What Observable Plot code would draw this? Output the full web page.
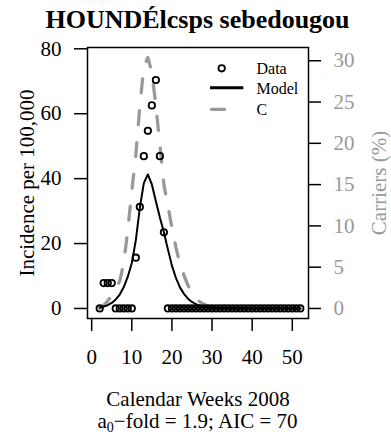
<!DOCTYPE html>
<html><head><meta charset="utf-8">
<script src="https://cdn.jsdelivr.net/npm/d3@7"></script>
<script src="https://cdn.jsdelivr.net/npm/@observablehq/plot@0.6"></script>
<style>
body{margin:0;background:#fff;}
#wrap{position:relative;width:391px;height:437px;overflow:hidden;font-family:"Liberation Serif","Times New Roman",serif;color:#000;}
#title{position:absolute;top:0;left:197.5px;transform:translateX(-50%);white-space:nowrap;font-weight:bold;font-size:26px;line-height:40px;}
#chart{position:absolute;top:40px;left:0;}
#caption{position:absolute;left:197.5px;transform:translateX(-50%);top:408px;white-space:nowrap;font-size:21px;line-height:26px;}
#caption sub{font-size:14px;vertical-align:-4px;line-height:0;}
#legend{position:absolute;left:0;top:0;pointer-events:none;}
</style></head><body>
<div id="wrap">
<div id="title">HOUNDÉlcsps sebedougou</div>
<div id="chart"></div>
<div id="caption">a<sub>0</sub>−fold = 1.9; AIC = 70</div>
<svg id="legend" width="391" height="437" font-family="Liberation Serif, serif" font-size="16">
  <circle cx="221.7" cy="68.3" r="3.2" fill="none" stroke="#000" stroke-width="1.8"></circle>
  <text x="256.5" y="68.3" dominant-baseline="central">Data</text>
  <line x1="210" x2="243.3" y1="87.7" y2="87.7" stroke="#000" stroke-width="3"></line>
  <text x="256.5" y="88" dominant-baseline="central">Model</text>
  <line x1="211.5" x2="224.5" y1="109.3" y2="109.3" stroke="#999" stroke-width="3.3" stroke-linecap="round"></line>
  <text x="256.5" y="109.5" dominant-baseline="central">C</text>
</svg>
</div>
<script>
const weeks = [2,3,4,5,6,7,8,9,10,11,12,13,14,15,16,17,18,19,20,21,22,23,24,25,26,27,28,29,30,31,32,33,34,35,36,37,38,39,40,41,42,43,44,45,46,47,48,49,50,51,52];
const incidence = [0,7.82,7.82,7.82,0,0,0,0,0,15.64,31.28,46.92,54.74,62.56,70.38,46.92,23.46,
  0,0,0,0,0,0,0,0,0,0,0,0,0,0,0,0,0,0,0,0,0,0,0,0,0,0,0,0,0,0,0,0,0,0];
const model = [0.3,0.6,1.0,1.7,2.8,4.3,6.6,9.8,14.0,21.0,31.0,38.6,41.3,38.2,33.0,28.0,23.5,18.2,13.2,9.4,6.5,4.5,3.0,2.0,1.3,0.8,0.5,0.3,0.2,0.1,
  0,0,0,0,0,0,0,0,0,0,0,0,0,0,0,0,0,0,0,0,0];
const carriers = [0,0.4,0.9,1.6,2.5,3.3,5.5,9.5,14.2,18.6,24.5,29.3,30.4,28.6,24.6,19.8,15.0,12.4,9.8,7.4,5.4,4.0,2.8,1.9,1.2,0.8,0.5,0.3,0.15,0.05,
  0,0,0,0,0,0,0,0,0,0,0,0,0,0,0,0,0,0,0,0,0];
const xTicks = [0,10,20,30,40,50];
const yTicks = [0,20,40,60,80];
const cTicks = [0,5,10,15,20,25,30];
const yDomain = [-3.09, 80.4];
const cDomain = [-1.22, 31.6];
const xDomain = [-1.04, 54.04];

const k = (yDomain[1]-yDomain[0])/(cDomain[1]-cDomain[0]);
const rows = weeks.map((w,i)=>({week:w, inc:incidence[i], model:model[i], c:carriers[i]}));
const serif = '"Liberation Serif", serif';

const chart = Plot.plot({
  width:391, height:370, marginTop:7, marginBottom:92, marginLeft:87, marginRight:83,
  style:{fontFamily:serif, fontSize:"21px", background:"transparent", overflow:"visible"},
  x:{domain:xDomain},
  y:{domain:yDomain},
  marks:[
    Plot.line(rows, {x:"week", y:d=>d.c*k, stroke:"#999", strokeWidth:3.3, strokeDasharray:"14,18", strokeLinecap:"round"}),
    Plot.line(rows, {x:"week", y:"model", stroke:"#000", strokeWidth:2}),
    Plot.dot(rows, {x:"week", y:"inc", r:3.2, stroke:"#000", strokeWidth:1.8, fill:"none"}),
    Plot.frame({stroke:"#000", strokeWidth:1.5}),
    Plot.axisX(xTicks, {tickSize:13, tickPadding:18, strokeWidth:1.5, label:null, fontFamily:serif}),
    Plot.axisY(yTicks, {anchor:"left", tickSize:13, tickPadding:13, strokeWidth:1.5, label:null, fontFamily:serif}),
    Plot.axisY(cTicks.map(c=>c*k), {anchor:"right", tickSize:12, tickPadding:13, strokeWidth:1.5, stroke:"#000", fill:"#999", fontFamily:serif, tickFormat:d=>String(Math.round(d/k)), label:null}),
    Plot.text(["Calendar Weeks 2008"], {frameAnchor:"bottom", dy:81, lineAnchor:"middle", textAnchor:"middle", fontFamily:serif, fontSize:21, text:d=>d}),
    Plot.text(["Incidence per 100,000"], {frameAnchor:"left", dx:-60, rotate:-90, lineAnchor:"middle", textAnchor:"middle", fontFamily:serif, fontSize:21, text:d=>d}),
    Plot.text(["Carriers (%)"], {frameAnchor:"right", dx:71, rotate:-90, lineAnchor:"middle", textAnchor:"middle", fill:"#999", fontFamily:serif, fontSize:21, text:d=>d})
  ]
});
document.getElementById("chart").appendChild(chart);
</script>
</body></html>
